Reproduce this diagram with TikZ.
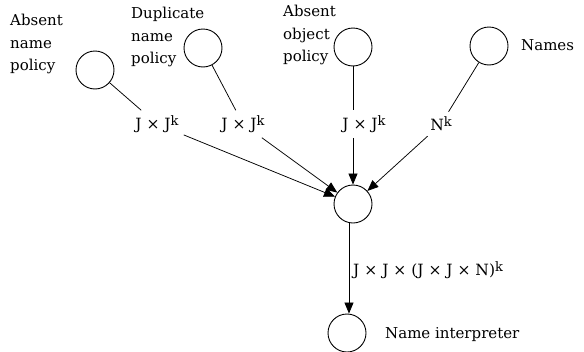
\documentclass[tikz,border=0pt]{standalone}
\usepackage{fontspec}
\setmainfont{DejaVu Serif}
\usetikzlibrary{arrows.meta}
% raised superscript k used in the flow labels
\newcommand\supk{{\fontsize{13}{13}\selectfont\raisebox{4pt}{k}}}
\begin{document}
\begin{tikzpicture}[x=1pt,y=-1pt,
  proc/.style={draw,circle,minimum size=38pt,inner sep=0pt,line width=0.9pt},
  caption/.style={font=\fontsize{15}{22.5}\selectfont,align=left,inner sep=0pt},
  flow/.style={font=\fontsize{15.5}{17}\selectfont,inner sep=5pt},
  wire/.style={line width=0.75pt},
  feed/.style={line width=0.75pt,-{Triangle[length=11pt,width=9pt]}}]
\useasboundingbox (0,0) rectangle (584,351);
% processes
\node[proc] (anp) at (95,70) {};
\node[proc] (dnp) at (203,48) {};
\node[proc] (aop) at (353,47) {};
\node[proc] (nam) at (489,46) {};
\node[proc] (mid) at (353,204) {};
\node[proc] (ni)  at (347,333) {};
% vertical output wire position
\coordinate (tap) at (349,0);
% captions
\node[caption,anchor=north west] (tanp) at (10,14) {Absent\\name\\policy};
\node[caption,anchor=north west] (tdnp) at (131,7) {Duplicate\\name\\policy};
\node[caption,anchor=north west] (taop) at (283,5) {Absent\\object\\policy};
\node[caption,anchor=base west] (tnam) at (521,50) {Names};
\node[caption,anchor=base west] (tni) at (385,338) {Name interpreter};
% data labels
\node[flow] (l1) at (157,124) {J × J\supk};
\node[flow] (l2) at (243,124) {J × J\supk};
\node[flow] (l3) at (364,124) {J × J\supk};
\node[flow] (l4) at (441,124) {N\supk};
\node[flow,anchor=west,inner sep=0pt] (l5) at (353,270) {J × J × (J × J × N)\supk};
% connectors
\draw[wire] (anp) -- (l1);
\draw[feed] (l1) -- (mid);
\draw[wire] (dnp) -- (l2);
\draw[feed] (l2) -- (mid);
\draw[wire] (aop) -- (aop|-l3.north);
\draw[feed] (aop|-l3.south) -- (mid);
\draw[wire] (nam) -- (l4);
\draw[feed] (l4) -- (mid);
\draw[feed] (tap|-mid.south) -- (tap|-ni.north);
\end{tikzpicture}
\end{document}
